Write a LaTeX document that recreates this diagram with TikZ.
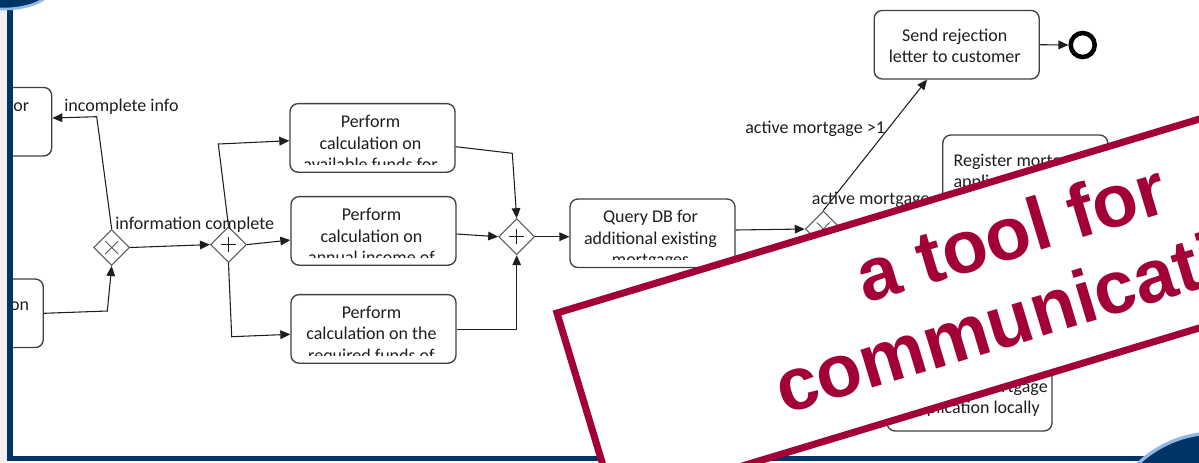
\documentclass[tikz,border=0pt]{standalone}
\usepackage{fontspec}
\newfontfamily\diagfamily{Carlito}
\newfontfamily\stampfamily{Liberation Sans}
\usetikzlibrary{arrows.meta,shapes.geometric,calc}

\definecolor{slideblue}{RGB}{0,51,102}
\definecolor{rimblue}{RGB}{140,185,230}
\definecolor{stampred}{RGB}{163,0,55}
\definecolor{boxgrey}{RGB}{64,64,64}
\definecolor{gategrey}{RGB}{90,90,90}
\definecolor{inkgrey}{RGB}{30,30,30}
\definecolor{stripgrey}{RGB}{240,240,240}

\newcommand{\diagfont}{\diagfamily\fontsize{13.5}{16.2}\selectfont}
\newcommand{\stampfont}{\stampfamily\bfseries\fontsize{56}{64}\selectfont}
\newcommand{\pxu}{0.75pt}

% text of a task, cut off above the lower edge of its box
\newcommand{\tasktext}[3]{%
  \begin{scope}
    \clip ([yshift=8.5*\pxu]#1.south west) rectangle (#1.north east);
    \node[tasklabel] (#1-text) at ([xshift=-2*\pxu,yshift=-#2*\pxu]#1.north) {#3};
  \end{scope}}

\begin{document}
\begin{tikzpicture}[x=0.75pt, y=-0.75pt,
    task/.style={rectangle, rounded corners=6pt, draw=boxgrey, line width=1pt, fill=white,
        minimum width=123.75pt, minimum height=51.4pt, inner sep=0},
    gateway/.style={diamond, draw=gategrey, line width=0.8pt, fill=white,
        minimum width=27pt, minimum height=27pt, inner sep=0},
    xorgw/.style={gateway, path picture={\draw[gategrey, line width=0.7pt]
        (path picture bounding box.center) ++(-6.5,-6.5) -- ++(13,13) ++(-13,0) -- ++(13,-13);}},
    andgw/.style={gateway, path picture={\draw[inkgrey, line width=1.1pt]
        (path picture bounding box.center) ++(-7.5,0) -- ++(15,0) ++(-7.5,-7.5) -- ++(0,15);}},
    endevent/.style={circle, draw=black, line width=3.4pt, fill=white, minimum size=18pt, inner sep=0},
    flow/.style={draw=inkgrey, line width=0.8pt, -{Triangle[length=7.5pt,width=6.5pt]}},
    tasklabel/.style={font=\diagfont, text=inkgrey, align=center, inner sep=0, anchor=north,
        execute at begin node={\strut}},
    flowlabel/.style={font=\diagfont, text=inkgrey, inner sep=0, anchor=base west},
    stamptext/.style={font=\stampfont, text=stampred, inner sep=0, anchor=base, transform shape}
]
\useasboundingbox (0,0) rectangle (1199,462);
\clip (0,0) rectangle (1199,462);

% Tasks
\node[task] (ltop) at (-30.8,121.7) {};
\node[task] (lbot) at (-39.2,313.3) {};
\node[task] (taskA) at (372.5,137.9) {};
\node[task] (taskB) at (373.5,230.9) {};
\node[task] (taskC) at (373.5,328.9) {};
\node[task] (query) at (652.5,233.3) {};
\node[task] (reject) at (956.7,44.7) {};
\node[task] (register) at (1025.3,169.3) {};
\node[task] (local) at (969.5,396.7) {};

% Gateways and end event
\node[xorgw] (gwX1) at (111.7,247.5) {};
\node[andgw] (gwP1) at (228.5,244.6) {};
\node[andgw] (gwP2) at (516.7,236.7) {};
\node[xorgw] (gwX2) at (823.3,229) {};
\node[endevent] (endev) at (1082.7,45) {};

% Task texts
\node[flowlabel, anchor=base east] (ltop-text) at (29.3,111.7) {or};
\node[flowlabel, anchor=base east] (lbot-text) at (29.3,310.3) {on};
\tasktext{taskA}{11.9}{Perform\\calculation on\\available funds for}
\tasktext{taskB}{11.9}{Perform\\calculation on\\annual income of}
\tasktext{taskC}{11.7}{Perform\\calculation on the\\required funds of}
\tasktext{query}{11.8}{Query DB for\\additional existing\\mortgages}
\tasktext{reject}{18.8}{Send rejection\\letter to customer}
\node[tasklabel, align=left, anchor=north west] (register-text) at (953.3,153.5) {Register mortgage\\application};
\node[flowlabel, anchor=base east] (local-texta) at (1048,392) {mortgage};
\node[flowlabel, anchor=base east] (local-textb) at (1040,413.5) {application locally};

% Flows
\draw[flow] (gwX1.north) -- (96.7,116.7) -- (ltop.east |- 0,118);
\draw[flow] (lbot.east) -- (107.3,311) -- (gwX1.south);
\draw[flow] (gwX1.east) -- (gwP1.west);
\draw[flow] (gwP1.north) -- (218.3,144) -- (taskA.west |- 0,140.7);
\draw[flow] (gwP1.east) -- (taskB.west |- 0,240);
\draw[flow] (gwP1.south) -- (231.7,336.7) -- (taskC.west |- 0,334.3);
\draw[flow] (taskA.east |- 0,146.7) -- (512.3,153.3) -- (gwP2.north);
\draw[flow] (taskB.east |- 0,234) -- (gwP2.west);
\draw[flow] (taskC.east |- 0,329.3) -- (gwP2 |- 0,329.3) -- (gwP2.south);
\draw[flow] (gwP2.east) -- (query.west |- gwP2);
\draw[flow] (query.east |- 0,230) -- (gwX2.west);
\draw[flow] (gwX2.north) -- (reject.south -| 927,0);
\draw[flow] (reject.east) -- (endev.west);

% Flow labels
\node[flowlabel] (lbl-incomplete) at (64,111) {incomplete info};
\node[flowlabel] (lbl-complete) at (115,229.3) {information complete};
\node[flowlabel] (lbl-more) at (745,133) {active mortgage >1};
\node[flowlabel] (lbl-one) at (811.7,204.3) {active mortgage =1};

% Slide frame
\fill[stripgrey] (0,0) rectangle (7,462);
\draw[slideblue, line width=4pt] (10,8) -- (10,461);
\draw[slideblue, line width=3.75pt] (8,458.5) -- (1199,458.5);
\draw[rimblue, line width=2pt, fill=slideblue] (4,-16) ellipse [x radius=50, y radius=25];
\draw[rimblue, line width=2.5pt, fill=slideblue] (1215,545) circle [radius=112];

% Stamp
\begin{scope}[shift={(557,313)}, rotate=16.8]
  \draw[stampred, line width=5.25pt, fill=white] (0,0) rectangle (910,200);
  \node[stamptext] (stamp-a) at (458,80) {a tool for};
  \node[stamptext] (stamp-b) at (464,163) {communication};
\end{scope}

\end{tikzpicture}
\end{document}
